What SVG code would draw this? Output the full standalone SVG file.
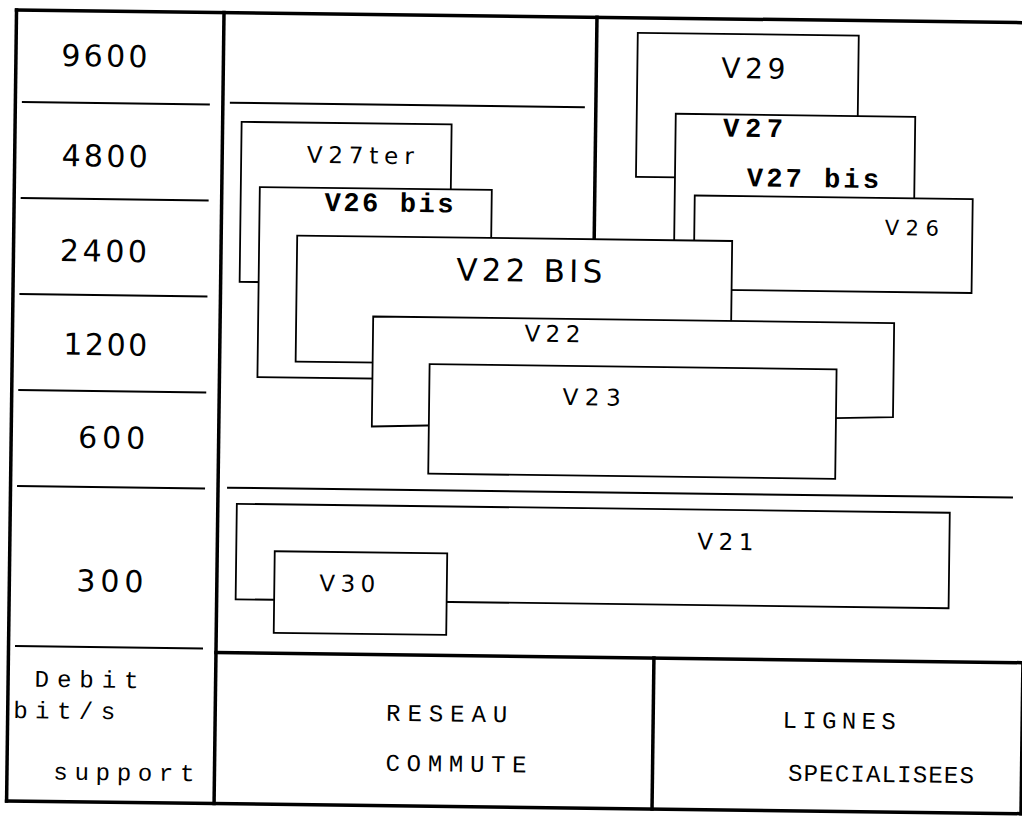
<svg xmlns="http://www.w3.org/2000/svg" width="1022" height="816" viewBox="0 0 1022 816">
<style>
.frame{stroke:#000;stroke-width:3.5;fill:none;stroke-linecap:square}
.thin{stroke:#000;stroke-width:2;fill:none}
.box{stroke:#000;stroke-width:1.8;fill:#fff}
.num{font-family:"DejaVu Sans","Liberation Sans",sans-serif;font-size:30px;fill:#000;text-anchor:middle}
.lab{font-family:"DejaVu Sans","Liberation Sans",sans-serif;font-size:23px;fill:#000;text-anchor:middle}
.big{font-family:"DejaVu Sans","Liberation Sans",sans-serif;font-size:31px;fill:#000;text-anchor:middle}
.monob{font-family:"Liberation Mono","Courier New",monospace;font-size:27px;font-weight:bold;fill:#000;text-anchor:middle}
.mono{font-family:"Liberation Mono","Courier New",monospace;font-size:24px;fill:#000}
.monoc{font-family:"Liberation Mono","Courier New",monospace;font-size:24px;fill:#000;text-anchor:middle}
</style>
<rect width="1022" height="816" fill="#fff"/>
<g transform="rotate(0.72 17 12)">
  <g id="grid">
    <line class="frame" x1="16.5" y1="10" x2="1045" y2="10"/>
    <line class="frame" x1="16.5" y1="10" x2="16.5" y2="801"/>
    <line class="frame" x1="16.5" y1="801" x2="1031" y2="801"/>
    <line class="frame" x1="1031" y1="650" x2="1031" y2="801"/>
    <line class="frame" x1="224" y1="10" x2="224" y2="801"/>
    <line class="frame" x1="224" y1="650" x2="1040" y2="650"/>
    <line class="frame" x1="662" y1="650" x2="662" y2="801"/>
    <line class="frame" x1="597" y1="10" x2="597" y2="232"/>
    <line class="thin" x1="23" y1="102" x2="211" y2="102"/>
    <line class="thin" x1="23" y1="198" x2="211" y2="198"/>
    <line class="thin" x1="23" y1="294" x2="211" y2="294"/>
    <line class="thin" x1="23" y1="390" x2="211" y2="390"/>
    <line class="thin" x1="23" y1="486" x2="211" y2="486"/>
    <line class="thin" x1="23" y1="646" x2="211" y2="646"/>
    <line class="thin" x1="231" y1="100" x2="586" y2="100"/>
    <line class="thin" x1="233" y1="485" x2="1019" y2="485"/>
  </g>
  <g id="axis">
    <text class="num" x="105" y="65.5" textLength="86" lengthAdjust="spacing">9600</text>
    <text class="num" x="106.5" y="165.5" textLength="86" lengthAdjust="spacing">4800</text>
    <text class="num" x="106.5" y="260.5" textLength="87" lengthAdjust="spacing">2400</text>
    <text class="num" x="109.5" y="354" textLength="84" lengthAdjust="spacing">1200</text>
    <text class="num" x="117" y="447" textLength="67" lengthAdjust="spacing">600</text>
    <text class="num" x="117" y="590.5" textLength="67" lengthAdjust="spacing">300</text>
    <text class="mono" x="43" y="686.5" textLength="104" lengthAdjust="spacing">Debit</text>
    <text class="mono" x="22" y="718" textLength="102" lengthAdjust="spacing">bit/s</text>
    <text class="mono" x="63" y="779" textLength="141" lengthAdjust="spacing">support</text>
  </g>
  <g id="v29">
    <rect class="box" x="638" y="25" width="221" height="144"/>
    <text class="big" x="754" y="69" textLength="64" lengthAdjust="spacing" style="font-size:28px">V29</text>
  </g>
  <g id="v27">
    <rect class="box" x="677" y="105.5" width="239.5" height="150"/>
    <text class="monob" x="754.5" y="127.5" textLength="60" lengthAdjust="spacing">V27</text>
    <text class="monob" x="815" y="177" textLength="132" lengthAdjust="spacing">V27 bis</text>
  </g>
  <g id="v26">
    <rect class="box" x="697" y="187" width="278" height="94"/>
    <text class="lab" x="914.5" y="224" textLength="54" lengthAdjust="spacing" style="font-size:21px">V26</text>
  </g>
  <g id="v27ter">
    <rect class="box" x="243" y="119" width="210" height="160"/>
    <text class="lab" x="362" y="159" textLength="107" lengthAdjust="spacing">V27ter</text>
  </g>
  <g id="v26bis">
    <rect class="box" x="262" y="184" width="232" height="190"/>
    <text class="monob" x="391.5" y="207" textLength="129" lengthAdjust="spacing">V26 bis</text>
  </g>
  <g id="v22bis">
    <rect class="box" x="300" y="232" width="435" height="126"/>
    <text class="big" x="532.5" y="275" textLength="146" lengthAdjust="spacing">V22 BIS</text>
  </g>
  <g id="v22">
    <polygon class="box" points="377,312 898,312 898,406 377,422"/>
    <text class="lab" x="556.5" y="335" textLength="56" lengthAdjust="spacing">V22</text>
  </g>
  <g id="v23">
    <rect class="box" x="434" y="359" width="407" height="109.5"/>
    <text class="lab" x="596.5" y="398" textLength="58" lengthAdjust="spacing">V23</text>
  </g>
  <g id="v21">
    <rect class="box" x="243" y="501" width="713" height="95.5"/>
    <text class="lab" x="732" y="541" textLength="56" lengthAdjust="spacing">V21</text>
  </g>
  <g id="v30">
    <rect class="box" x="281.5" y="548" width="172.5" height="81.5"/>
    <text class="lab" x="354.5" y="587.5" textLength="56" lengthAdjust="spacing">V30</text>
  </g>
  <g id="reseau">
    <text class="monoc" x="455.5" y="716" textLength="121" lengthAdjust="spacing">RESEAU</text>
    <text class="monoc" x="465.5" y="766" textLength="141" lengthAdjust="spacing">COMMUTE</text>
  </g>
  <g id="lignes">
    <text class="monoc" x="848" y="718" textLength="113" lengthAdjust="spacing">LIGNES</text>
    <text class="monoc" x="890.5" y="771" textLength="186" lengthAdjust="spacing">SPECIALISEES</text>
  </g>
</g>
</svg>
